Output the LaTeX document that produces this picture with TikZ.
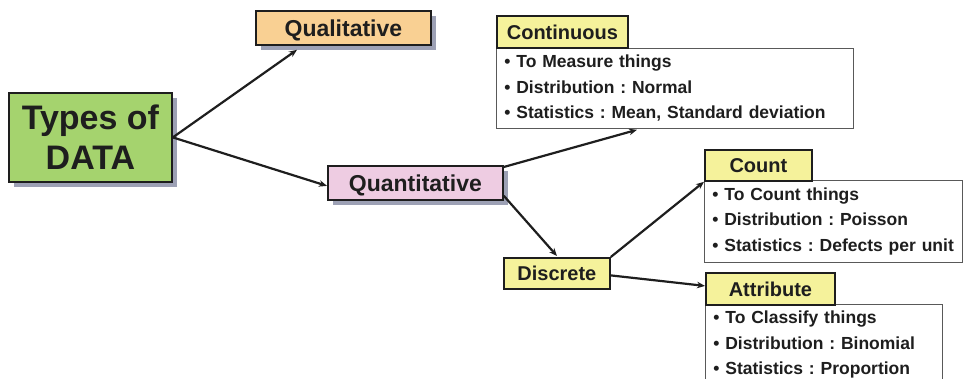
\documentclass[tikz,border=0pt]{standalone}
\usepackage{fontspec}
\setmainfont{Liberation Sans}
\usetikzlibrary{arrows.meta,shadows}
\definecolor{txt}{HTML}{1E1E1E}
\definecolor{gfill}{HTML}{A5D36E}
\definecolor{ofill}{HTML}{F9D093}
\definecolor{pfill}{HTML}{EECCE2}
\definecolor{yfill}{HTML}{F5F29B}
\definecolor{shad}{HTML}{9DA1B5}
\tikzset{
  box/.style={draw=txt, line width=1.8pt, anchor=north west, inner sep=0pt, text=txt},
  oneline/.style={text depth=0pt},
  shadowed/.style={drop shadow={shadow xshift=5pt, shadow yshift=-5pt, fill=shad, opacity=1}},
  lbl/.style={box, oneline, fill=yfill, font=\fontsize{20}{24}\selectfont\bfseries},
  info/.style={draw=black!65, line width=0.8pt, anchor=north west, inner sep=0pt, inner xsep=8pt,
    align=left, text=txt, font=\fontsize{17.5}{25.5}\selectfont\bfseries},
  conn/.style={draw=txt, line width=2.2pt, -{Stealth[length=8pt,width=6.5pt]}}
}
\begin{document}
\frenchspacing
\begin{tikzpicture}[x=1pt,y=-1pt]
\useasboundingbox (0,0) rectangle (966,379);
\clip (0,0) rectangle (966,379);
% main boxes
\node[box, shadowed, fill=gfill, minimum width=163pt, minimum height=89pt, align=center,
  font=\fontsize{34}{40}\selectfont\bfseries] (types) at (8,92) {Types of\\DATA};
\node[box, oneline, shadowed, fill=ofill, minimum width=175pt, minimum height=34pt,
  font=\fontsize{23}{26}\selectfont\bfseries] (qual) at (255,10) {Qualitative};
\node[box, oneline, shadowed, fill=pfill, minimum width=175pt, minimum height=34pt,
  font=\fontsize{23}{26}\selectfont\bfseries] (quant) at (327,165) {Quantitative};
\node[lbl, minimum width=106pt, minimum height=31pt] (disc) at (503,257) {Discrete};
% continuous
\node[info, minimum width=357pt, minimum height=80pt, text width=341pt] (cinfo) at (496,48)
  {• To Measure things\\• Distribution : Normal\\• Statistics : Mean, Standard deviation};
\node[lbl, minimum width=131pt, minimum height=32pt] (cont) at (496,15) {Continuous};
% count
\node[info, minimum width=258pt, minimum height=82pt, text width=242pt] (kinfo) at (704,180)
  {• To Count things\\• Distribution : Poisson\\• Statistics : Defects per unit};
\node[lbl, minimum width=107pt, minimum height=31pt] (count) at (704,149) {Count};
% attribute
\node[info, minimum width=237pt, minimum height=81pt, text width=221pt] (ainfo) at (705,304)
  {• To Classify things\\• Distribution : Binomial\\• Statistics : Proportion};
\node[lbl, minimum width=129pt, minimum height=32pt] (attr) at (705,272) {Attribute};
% connectors
\coordinate (qualin) at ([xshift=42pt,yshift=-4pt]qual.south west);
\draw[conn] (types.east) -- (qualin);
\draw[conn] (types.east) -- ([yshift=-3pt]quant.west);
\coordinate (cinfoin) at ([xshift=141pt,yshift=-1pt]cinfo.south west);
\draw[conn] ([yshift=-2pt]quant.north east) -- (cinfoin);
\draw[conn] ([yshift=5pt]quant.south east) -- ([xshift=54pt,yshift=1pt]disc.north west);
\draw[conn] (disc.north east) -- (count.south west);
\draw[conn] ([yshift=-2pt]disc.east) -- ([yshift=3pt]attr.west);
\end{tikzpicture}
\end{document}
